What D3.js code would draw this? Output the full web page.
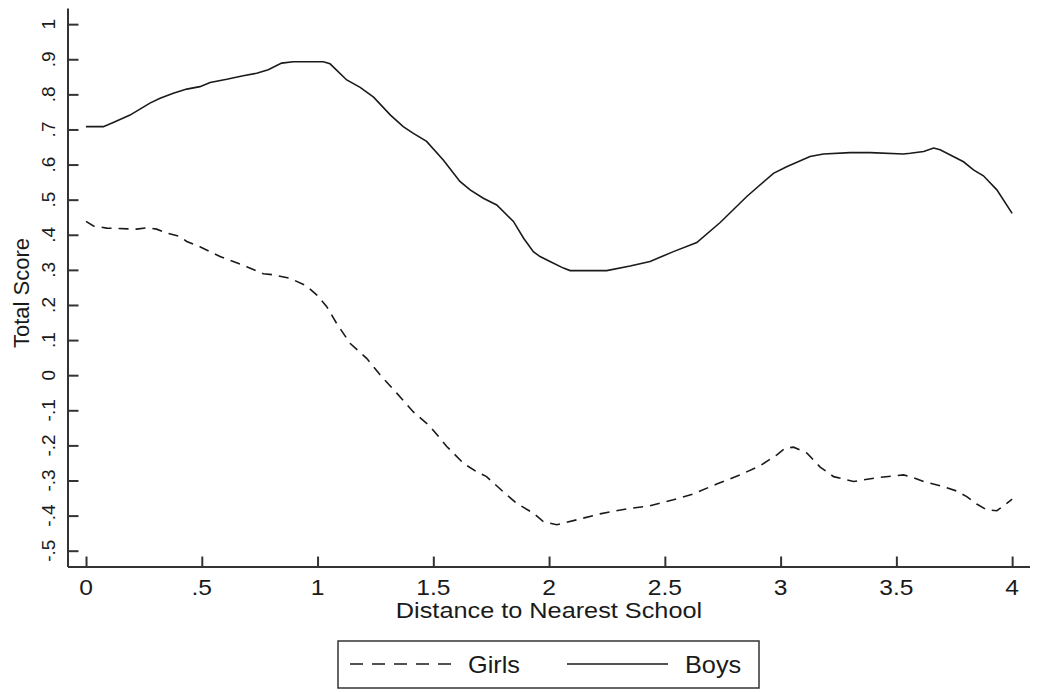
<!DOCTYPE html>
<html>
<head>
<meta charset="utf-8">
<script src="https://cdn.jsdelivr.net/npm/d3@7"></script>
<style>
  body { margin: 0; background: #fff; }
  text { font-family: Arial, "Liberation Sans", sans-serif; fill: #1a1a1a; }
</style>
</head>
<body>
<div id="chart"></div>
<script>
// values
const boysX = [0, .075, .125, .19, .233, .276, .32, .377, .435, .492, .536, .608, .679, .737, .787, .845, .895, 1.025, 1.054, 1.126,
  1.184, 1.242, 1.315, 1.37, 1.414, 1.471, 1.543, 1.615, 1.659, 1.716, 1.774, 1.846, 1.89, 1.932, 1.961, 2.004, 2.062, 2.091, 2.249, 2.35,
  2.436, 2.537, 2.638, 2.739, 2.854, 2.969, 3.026, 3.127, 3.185, 3.3, 3.387, 3.531, 3.56, 3.618, 3.661, 3.689, 3.79, 3.833, 3.876, 3.934, 4.0];
const boysY = [.708, .708, .722, .741, .758, .775, .789, .803, .815, .822, .834, .843, .853, .86, .87, .889, .893, .893, .887, .841,
  .82, .792, .741, .708, .689, .666, .613, .552, .528, .504, .485, .438, .39, .352, .338, .324, .305, .298, .298, .311,
  .324, .352, .378, .435, .509, .575, .594, .623, .63, .634, .634, .63, .632, .637, .647, .642, .608, .585, .568, .528, .461];

const girlsX = [0, .032, .089, .218, .262, .305, .348, .406, .435, .492, .579, .636, .694, .766, .809, .881, .953, .996, 1.039, 1.082,
  1.14, 1.212, 1.27, 1.342, 1.413, 1.486, 1.558, 1.63, 1.687, 1.73, 1.802, 1.86, 1.932, 1.975, 2.033, 2.119, 2.22, 2.335, 2.436, 2.537,
  2.624, 2.724, 2.825, 2.911, 2.984, 3.02, 3.056, 3.114, 3.171, 3.229, 3.315, 3.416, 3.531, 3.56, 3.618, 3.689, 3.761, 3.804, 3.847, 3.891,
  3.934, 3.977, 4.0];
const girlsY = [.438, .425, .419, .416, .42, .416, .405, .395, .381, .366, .338, .324, .309, .289, .286, .276, .254, .229, .196, .148,
  .091, .048, .001, -.051, -.104, -.146, -.203, -.251, -.275, -.289, -.332, -.365, -.393, -.417, -.426, -.412, -.395, -.381, -.372, -.355,
  -.338, -.31, -.284, -.258, -.227, -.208, -.205, -.222, -.262, -.289, -.303, -.292, -.284, -.289, -.303, -.315, -.33, -.346, -.367, -.384,
  -.386, -.365, -.353];

const xTicks = [0, .5, 1, 1.5, 2, 2.5, 3, 3.5, 4];
const xTickLabels = ["0", ".5", "1", "1.5", "2", "2.5", "3", "3.5", "4"];
const yTicks = [-.5, -.4, -.3, -.2, -.1, 0, .1, .2, .3, .4, .5, .6, .7, .8, .9, 1];
const yTickLabels = ["-.5", "-.4", "-.3", "-.2", "-.1", "0", ".1", ".2", ".3", ".4", ".5", ".6", ".7", ".8", ".9", "1"];

const series = [
  {name: "Girls", xs: girlsX, ys: girlsY, dash: "10,7"},
  {name: "Boys", xs: boysX, ys: boysY, dash: null}
];

const W = 1047, H = 692;
const ink = "#1a1a1a";

let svg = d3.select("#chart").append("svg")
  .attr("width", W).attr("height", H);

let x = d3.scaleLinear().domain([-0.08, 4.075]).range([67.5, 1029.5]);
let y = d3.scaleLinear().domain([-0.545, 1.046]).range([566.5, 8]);

// axes: ticks point inward, labels drawn by hand so they can be rotated / stretched
let xAxis = d3.axisBottom(x).tickValues(xTicks).tickSizeInner(-10).tickSizeOuter(0).tickFormat("");
let yAxis = d3.axisLeft(y).tickValues(yTicks).tickSizeInner(-11).tickSizeOuter(0).tickFormat("");

let gx = svg.append("g").attr("transform", "translate(0," + y.range()[0] + ")").call(xAxis);
let gy = svg.append("g").attr("transform", "translate(" + x.range()[0] + ",0)").call(yAxis);
[gx, gy].forEach(g => {
  g.select(".domain").attr("stroke", "#333").attr("stroke-width", 2);
  g.selectAll(".tick line").attr("stroke", "#333").attr("stroke-width", 2);
});

svg.append("g").selectAll("text")
  .data(xTicks)
  .enter().append("text")
  .attr("transform", (d) => "translate(" + x(d) + ",595) scale(1.12,1)")
  .attr("text-anchor", "middle")
  .style("font-size", "22px")
  .text((d, i) => xTickLabels[i]);

svg.append("g").selectAll("text")
  .data(yTicks)
  .enter().append("text")
  .attr("transform", (d) => "translate(55," + y(d) + ") rotate(-90)")
  .attr("text-anchor", "middle")
  .style("font-size", "19px")
  .text((d, i) => yTickLabels[i]);

svg.append("text")
  .attr("transform", "translate(549,618) scale(1.15,1)")
  .attr("text-anchor", "middle")
  .style("font-size", "22px")
  .text("Distance to Nearest School");

svg.append("text")
  .attr("transform", "translate(29,293) rotate(-90)")
  .attr("text-anchor", "middle")
  .style("font-size", "22px")
  .text("Total Score");

// lines
let line = d3.line()
  .x(d => x(d[0]))
  .y(d => y(d[1]));

series.forEach(s => {
  let pts = s.xs.map((v, i) => [v, s.ys[i]]);
  svg.append("path")
    .datum(pts)
    .attr("fill", "none")
    .attr("stroke", ink)
    .attr("stroke-width", 1.6)
    .attr("stroke-dasharray", s.dash)
    .attr("d", line);
});

// legend
let legend = svg.append("g");
legend.append("rect")
  .attr("x", 338).attr("y", 641)
  .attr("width", 421).attr("height", 47)
  .attr("fill", "none").attr("stroke", "#333").attr("stroke-width", 1.5);

let legendPos = [{lx: 350, tx: 468}, {lx: 567, tx: 685}];
series.forEach((s, i) => {
  let p = legendPos[i];
  legend.append("line")
    .attr("x1", p.lx).attr("x2", p.lx + 101)
    .attr("y1", 664).attr("y2", 664)
    .attr("stroke", ink).attr("stroke-width", 1.6)
    .attr("stroke-dasharray", s.dash ? "13,9" : null);
  legend.append("text")
    .attr("transform", "translate(" + p.tx + ",673) scale(1.1,1)")
    .style("font-size", "23px")
    .text(s.name);
});
</script>
</body>
</html>
